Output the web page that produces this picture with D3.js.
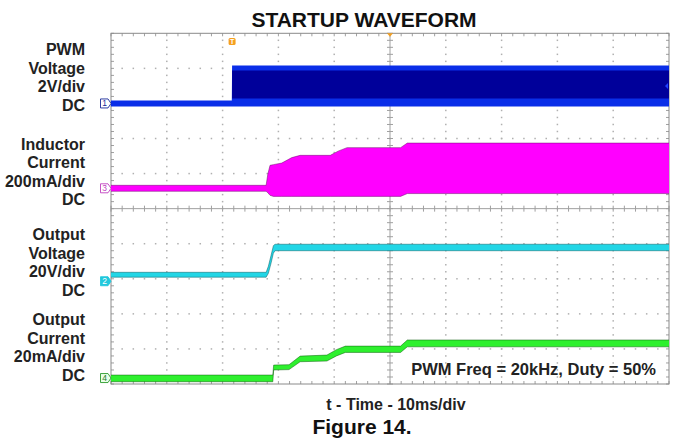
<!DOCTYPE html>
<html><head><meta charset="utf-8">
<script src="https://cdn.jsdelivr.net/npm/d3@7"></script>
<style>html,body{margin:0;padding:0;background:#fff;} svg{display:block;font-family:"Liberation Sans",Arial,sans-serif;}</style>
</head><body><svg id="c" width="674" height="441"></svg>
<script>
// ---------------- data ----------------
const title = "STARTUP WAVEFORM";
const xLabel = "t - Time - 10ms/div";
const figureLabel = "Figure 14.";
const note = "PWM Freq = 20kHz, Duty = 50%";
const timeDomainMs = [0, 100];          // 10 div x 10 ms/div
const divDomain = [0, 10];              // 10 vertical divisions
const channelIds = ["1", "3", "2", "4"];
const channelLabels = [
  ["PWM", "Voltage", "2V/div", "DC"],
  ["Inductor", "Current", "200mA/div", "DC"],
  ["Output", "Voltage", "20V/div", "DC"],
  ["Output", "Current", "20mA/div", "DC"]
];
const channelUnitsPerDiv = [2, 200, 20, 20];
const channelGroundDiv = [8.0, 5.58, 2.93, 0.17];
const triggerTimeMs = 21.7;

// envelopes: [time ms, min, max] in channel units
const pwmEnvelope = [[0, -0.17, 0.17], [21.65, -0.17, 0.17], [21.7, -0.17, 2.17], [100, -0.17, 2.17]];
const pwmCore = [[21.7, 0.28, 1.88], [100, 0.28, 1.88]];
const inductorEnvelope = [
  [0, -17, 17], [27.8, -17, 17], [28.1, -25, 80], [28.5, -40, 131], [29.1, -46, 135],
  [30.6, -46, 144], [32.4, -46, 175], [33.9, -46, 188], [39.3, -46, 188], [40.7, -46, 212],
  [42.3, -46, 232], [51.9, -46, 232], [53.1, -30, 258], [100, -30, 258]
];
const outVoltEnvelope = [
  [0, 2.3, 5.1], [27.8, 2.3, 5.1], [28.2, 4.5, 8.5], [28.7, 10.5, 15], [29.1, 16, 20.3],
  [29.4, 17.4, 21.1], [100, 17.4, 21.1]
];
const outCurrEnvelope = [
  [0, -2.1, 1.7], [29.0, -2.1, 1.7], [29.15, 4.6, 7.4], [31.9, 4.8, 7.6], [33.9, 9.3, 12.5],
  [38.7, 9.7, 13.1], [40.4, 12.6, 16.2], [42.0, 14.6, 18.2], [51.9, 14.6, 18.2],
  [53.1, 17.8, 21.7], [100, 17.8, 21.7]
];

// ---------------- drawing ----------------
const svg = d3.select("#c");
const L = 111, R = 669, T = 33.3, B = 384;
const x = d3.scaleLinear().domain(timeDomainMs).range([L, R]);
const y = d3.scaleLinear().domain(divDomain).range([B, T]);
const toY = (ch, v) => y(channelGroundDiv[ch] + v / channelUnitsPerDiv[ch]);

// grid
const grid = svg.append("g");
const minorX = d3.range(0, 100.001, 2);
const minorY = d3.range(0, 10.001, 0.2);
const majorX = d3.range(10, 100, 10).filter(d => d !== 50);
const majorY = d3.range(1, 10, 1).filter(d => d !== 5);
majorY.forEach(dv => {
  grid.selectAll(null).data(minorX.slice(1, -1)).enter().append("rect")
    .attr("x", d => x(d) - 0.75).attr("y", y(dv) - 0.75).attr("width", 1.5).attr("height", 1.5)
    .attr("fill", "#b0b0b0");
});
majorX.forEach(t => {
  grid.selectAll(null).data(minorY.slice(1, -1)).enter().append("rect")
    .attr("x", x(t) - 0.75).attr("y", d => y(d) - 0.75).attr("width", 1.5).attr("height", 1.5)
    .attr("fill", "#b0b0b0");
});
grid.append("line").attr("x1", x(50)).attr("x2", x(50)).attr("y1", T).attr("y2", B).attr("stroke", "#a0a0a0");
grid.append("line").attr("x1", L).attr("x2", R).attr("y1", y(5)).attr("y2", y(5)).attr("stroke", "#a0a0a0");
grid.selectAll(null).data(minorX).enter().append("line")
  .attr("x1", d => x(d)).attr("x2", d => x(d)).attr("y1", y(5) - 3).attr("y2", y(5) + 3).attr("stroke", "#a0a0a0");
grid.selectAll(null).data(minorY).enter().append("line")
  .attr("y1", d => y(d)).attr("y2", d => y(d)).attr("x1", x(50) - 3).attr("x2", x(50) + 3).attr("stroke", "#a0a0a0");
// border ticks
grid.selectAll(null).data(minorX).enter().append("line")
  .attr("x1", d => x(d)).attr("x2", d => x(d)).attr("y1", T).attr("y2", T + 3).attr("stroke", "#a0a0a0");
grid.selectAll(null).data(minorX).enter().append("line")
  .attr("x1", d => x(d)).attr("x2", d => x(d)).attr("y1", B).attr("y2", B - 3).attr("stroke", "#a0a0a0");
grid.selectAll(null).data(minorY).enter().append("line")
  .attr("y1", d => y(d)).attr("y2", d => y(d)).attr("x1", L).attr("x2", L + 3).attr("stroke", "#a0a0a0");
grid.selectAll(null).data(minorY).enter().append("line")
  .attr("y1", d => y(d)).attr("y2", d => y(d)).attr("x1", R).attr("x2", R - 3).attr("stroke", "#a0a0a0");
grid.append("rect").attr("x", L).attr("y", T).attr("width", R - L).attr("height", B - T)
  .attr("fill", "none").attr("stroke", "#8a8a8a");

// traces
const traces = svg.append("g");
function band(ch, data, fill, edge) {
  const area = d3.area().x(d => x(d[0])).y0(d => toY(ch, d[1])).y1(d => toY(ch, d[2]));
  traces.append("path").datum(data).attr("d", area).attr("fill", fill);
  if (edge) {
    const lo = d3.line().x(d => x(d[0])).y(d => toY(ch, d[1]));
    const hi = d3.line().x(d => x(d[0])).y(d => toY(ch, d[2]));
    traces.append("path").datum(data).attr("d", lo).attr("fill", "none").attr("stroke", edge).attr("stroke-width", 0.9).attr("opacity", 0.55);
    traces.append("path").datum(data).attr("d", hi).attr("fill", "none").attr("stroke", edge).attr("stroke-width", 0.9).attr("opacity", 0.55);
  }
}
band(0, pwmEnvelope, "#0a2ee8", null);
band(0, pwmCore, "#00009a", null);
band(1, inductorEnvelope, "#ff00ff", "#6a0a6a");
band(2, outVoltEnvelope, "#22d6e6", "#0a5a60");
band(3, outCurrEnvelope, "#2ef02e", "#0b5a0b");

// channel markers
const markerStyles = [
  { stroke: "#1a2a9a", fill: "#fff", text: "#1a2a9a" },
  { stroke: "#c040c0", fill: "#fff", text: "#c040c0" },
  { stroke: "#22c8dc", fill: "#22c8dc", text: "#fff" },
  { stroke: "#2a9a2a", fill: "#e8ffe8", text: "#2a7a2a" }
];
channelIds.forEach((id, i) => {
  const yc = toY(i, 0), x0 = 100.5;
  const g = svg.append("g");
  g.append("path").attr("d", `M${x0},${yc - 4.5}H${x0 + 7.5}L${x0 + 10.5},${yc}L${x0 + 7.5},${yc + 4.5}H${x0}Z`)
    .attr("fill", markerStyles[i].fill).attr("stroke", markerStyles[i].stroke).attr("stroke-width", 0.9);
  g.append("text").attr("x", x0 + 4.2).attr("y", yc + 3).attr("text-anchor", "middle")
    .attr("font-size", 8.5).attr("fill", markerStyles[i].text).text(id);
});

// trigger markers
const trig = svg.append("g");
trig.append("rect").attr("x", x(triggerTimeMs) - 3.5).attr("y", 38).attr("width", 7).attr("height", 7)
  .attr("rx", 1.5).attr("fill", "#f5a020");
trig.append("text").attr("x", x(triggerTimeMs)).attr("y", 44).attr("text-anchor", "middle")
  .attr("font-size", 7).attr("font-weight", "bold").attr("fill", "#fff").text("T");
trig.append("path").attr("d", `M${x(50) - 3},${T}L${x(50) + 3},${T}L${x(50)},${T + 3.5}Z`).attr("fill", "#f5a020");
trig.append("path").attr("d", `M${R - 1},${toY(0, 1.0) - 3}L${R - 4},${toY(0, 1.0)}L${R - 1},${toY(0, 1.0) + 3}Z`).attr("fill", "#2040ff");

// text
svg.append("text").attr("x", 364).attr("y", 27).attr("text-anchor", "middle")
  .attr("font-size", 21).attr("font-weight", "bold").attr("fill", "#111").text(title);
const labelTops = [55, 149.5, 240, 325];
channelLabels.forEach((lines, i) => {
  svg.append("text").attr("text-anchor", "end").attr("font-size", 16).attr("font-weight", "bold").attr("fill", "#222")
    .selectAll("tspan").data(lines).enter().append("tspan")
    .attr("x", 85).attr("y", (d, k) => labelTops[i] + k * 18.5).text(d => d);
});
svg.append("text").attr("x", 656).attr("y", 375).attr("text-anchor", "end")
  .attr("font-size", 16.5).attr("font-weight", "bold").attr("fill", "#222").text(note);
svg.append("text").attr("x", 396).attr("y", 410).attr("text-anchor", "middle")
  .attr("font-size", 16).attr("font-weight", "bold").attr("fill", "#222").text(xLabel);
svg.append("text").attr("x", 362).attr("y", 434).attr("text-anchor", "middle")
  .attr("font-size", 21).attr("font-weight", "bold").attr("fill", "#111").text(figureLabel);
</script></body></html>
